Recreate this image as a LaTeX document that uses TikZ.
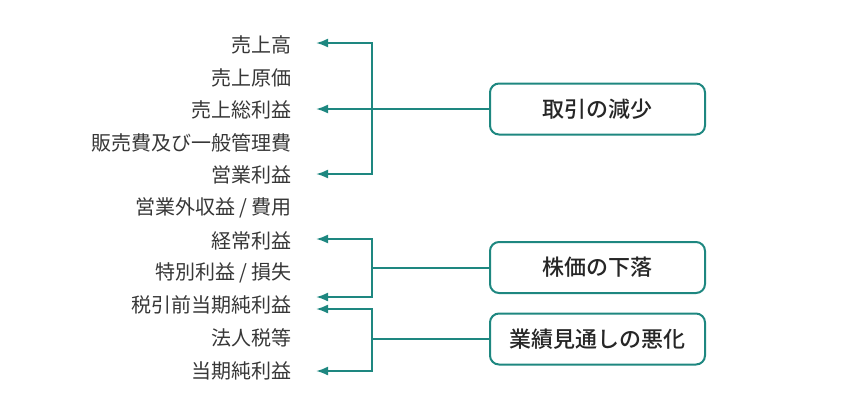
\documentclass[tikz,border=0pt]{standalone}
\usepackage{fontspec}
\newfontfamily\jp{Noto Sans CJK JP}
\newfontfamily\jpm[UprightFont={* Medium}]{Noto Sans CJK JP}
\usetikzlibrary{arrows.meta}
\definecolor{teal1}{RGB}{30,135,128}
\definecolor{txt}{RGB}{55,55,55}
\begin{document}
\begin{tikzpicture}[x=1bp,y=-1bp,
  lab/.style={anchor=east,inner sep=0pt,text=txt,font=\jp\fontsize{20bp}{22bp}\selectfont},
  cbox/.style={draw=teal1,line width=2bp,rounded corners=9bp,minimum width=215bp,minimum height=51bp,inner sep=0pt,text=black!85,font=\jpm\fontsize{22bp}{24bp}\selectfont},
  conn/.style={draw=teal1,line width=2bp},
  tip/.style={-{Latex[length=12bp,width=9bp]}},
  tips/.style={{Latex[length=12bp,width=9bp]}-{Latex[length=12bp,width=9bp]}}]
\useasboundingbox (0,0) rectangle (860,414);
\node[lab] (l1) at (292,45) {売上高};
\node[lab] (l2) at (292,78) {売上原価};
\node[lab] (l3) at (292,110) {売上総利益};
\node[lab] (l4) at (292,143) {販売費及び一般管理費};
\node[lab] (l5) at (292,175) {営業利益};
\node[lab] (l6) at (292,208) {営業外収益 / 費用};
\node[lab] (l7) at (292,241) {経常利益};
\node[lab] (l8) at (292,273) {特別利益 / 損失};
\node[lab] (l9) at (292,305) {税引前当期純利益};
\node[lab] (l10) at (292,338) {法人税等};
\node[lab] (l11) at (292,371) {当期純利益};
\node[cbox] (b1) at (597.5,109) {取引の減少};
\node[cbox] (b2) at (597.5,267.5) {株価の下落};
\node[cbox] (b3) at (597.5,339) {業績見通しの悪化};
% arrow tips beside the labels
\coordinate (t1) at (316,43);
\coordinate (t3) at (316,109);
\coordinate (t5) at (316,174);
\coordinate (t7) at (316,239);
\coordinate (t9a) at (316,297);
\coordinate (t9b) at (316,309);
\coordinate (t11) at (316,371);
\coordinate (vx) at (372,0);
% group 1
\draw[conn,tips] (t1) -| (t5 -| vx) -- (t5);
\draw[conn,tip] (b1.west) -- (t3);
% group 2
\draw[conn,tips] (t7) -| (t9a -| vx) -- (t9a);
\draw[conn] (b2.west) -- (b2.west -| vx);
% group 3
\draw[conn,tips] (t9b) -| (t11 -| vx) -- (t11);
\draw[conn] (b3.west) -- (b3.west -| vx);
\end{tikzpicture}
\end{document}
